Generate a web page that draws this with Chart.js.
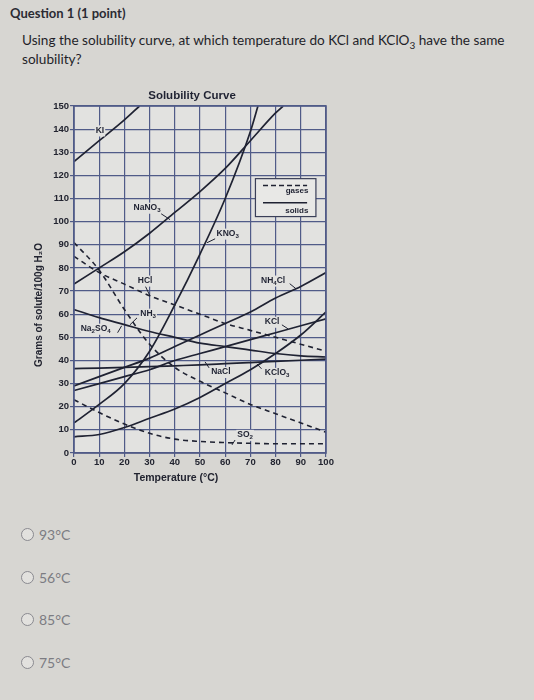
<!DOCTYPE html>
<html>
<head>
<meta charset="utf-8">
<script src="https://cdn.jsdelivr.net/npm/chart.js@4.4.1/dist/chart.umd.min.js"></script>
<style>
  html, body { margin:0; padding:0; }
  body { width:534px; height:700px; background:#d7d6d2; position:relative; overflow:hidden; font-family: Lato, "Open Sans", sans-serif; }
  .q { position:absolute; left:10px; top:5px; font-size:13px; font-weight:bold; color:#2b2b33; }
  .stem { position:absolute; left:22px; top:31px; width:505px; font-size:13.6px; line-height:19px; color:#1f1f29; }
  .stem sub { font-size:10px; line-height:0; }
  #wrap { position:absolute; left:0; top:80px; width:360px; height:420px; }
  .opt { position:absolute; left:21px; font-size:14px; color:#7c7c82; display:flex; align-items:center; }
  .opt span.r { display:inline-block; width:11px; height:11px; border:1px solid #8a8a90; border-radius:50%; margin-right:5px; background:#e2e1de; }
</style>
</head>
<body>
<div class="q">Question 1 (1 point)</div>
<div class="stem">Using the solubility curve, at which temperature do KCl and KClO<sub>3</sub> have the same solubility?</div>
<div id="wrap"><canvas id="c" width="360" height="420"></canvas></div>
<div class="opt" style="top:526px"><span class="r"></span>93°C</div>
<div class="opt" style="top:569px"><span class="r"></span>56°C</div>
<div class="opt" style="top:611px"><span class="r"></span>85°C</div>
<div class="opt" style="top:654px"><span class="r"></span>75°C</div>
<script>
// ---- data ----
const temps = [0,10,20,30,40,50,60,70,80,90,100];
const xTicks = [0,10,20,30,40,50,60,70,80,90,100];
const yTicks = [0,10,20,30,40,50,60,70,80,90,100,110,120,130,140,150];

const KI_T    = [0,10,20,26];
const KI      = [126,135,144,150];
const NaNO3_T = [0,10,20,30,40,50,60,70,80,83];
const NaNO3   = [73,80,87,95,104,113,123,135,147,150];
const KNO3_T  = [0,10,20,30,40,50,60,70,73];
const KNO3    = [13,21,30,44,64,86,110,139,150];
const NH4Cl   = [29,33,37,41,46,51,56,61,67,72,78];
const KCl     = [27,30,33,36,40,43,46,49,52,55,58];
const NaCl    = [36.5,36.7,37,37.3,37.7,38.1,38.6,39.1,39.6,40.1,40.6];
const KClO3   = [7,8,11,15,19,24,30,36,43,51,61];
const Na2SO4  = [62,58.5,55.5,52.5,50,47.5,46,44.5,43,42,41.5];
const HCl     = [85,78,73,68,64,60,56,53,50,47,44];
const NH3     = [91,79,62,47,37,31,26,21,17,13,9];
const SO2     = [23,17.5,12.5,8.5,6,5,4.5,4.2,4,4,4];

const seriesNames = ['KI','NaNO3','KNO3','NH4Cl','KCl','NaCl','KClO3','Na2SO4','HCl','NH3','SO2'];

// curve labels: [text, T, V, leader [T1,V1,T2,V2] or null]  (digits drawn as subscripts)
const curveLabels = [
  ['KI', 10.3, 139.4, null],
  ['NaNO3', 29, 106, [34.6,103.4,38.1,100.9]],
  ['KNO3', 61, 94.8, [56,92.6,52.8,90.9]],
  ['HCl', 28.2, 74.5, [28.4,71.9,30.2,67.8]],
  ['NH3', 29.4, 60.2, [25,58.4,22.2,55.4]],
  ['Na2SO4', 8.6, 53.7, [17.3,52,18.9,55]],
  ['NH4Cl', 79, 74.5, [85.6,73.2,88.1,71]],
  ['KCl', 78.6, 56.7, [82.5,55.4,84.9,53.7]],
  ['NaCl', 58.3, 35, [53.6,36.8,52,39.4]],
  ['KClO3', 80.6, 34.6, [74.4,36.4,72.6,38.5]],
  ['SO2', 67.9, 7.8, [63.9,5.6,62.7,3.5]]
];

const INK = '#1f2232';
const GRID = '#505b88';
const FONT = '"Liberation Sans", Arial, sans-serif';

function pts(xs, ys){ return xs.map((x,i)=>({x:x, y:ys[i]})); }
function solid(label, data){ return {label, data, borderColor:INK, borderWidth:1.7, pointRadius:0, cubicInterpolationMode:'monotone', fill:false}; }
function dashed(label, data){ return {label, data, borderColor:INK, borderWidth:1.6, borderDash:[5,4], pointRadius:0, cubicInterpolationMode:'monotone', fill:false}; }

const datasets = [
  solid(seriesNames[0], pts(KI_T, KI)),
  solid(seriesNames[1], pts(NaNO3_T, NaNO3)),
  solid(seriesNames[2], pts(KNO3_T, KNO3)),
  solid(seriesNames[3], pts(temps, NH4Cl)),
  solid(seriesNames[4], pts(temps, KCl)),
  solid(seriesNames[5], pts(temps, NaCl)),
  solid(seriesNames[6], pts(temps, KClO3)),
  solid(seriesNames[7], pts(temps, Na2SO4)),
  dashed(seriesNames[8], pts(temps, HCl)),
  dashed(seriesNames[9], pts(temps, NH3)),
  dashed(seriesNames[10], pts(temps, SO2))
];

// draw a formula with digits as subscripts, centred at (cx, cy)
function formula(ctx, text, cx, cy, size){
  const big = 'bold ' + size + 'px ' + FONT, small = 'bold ' + (size*0.72) + 'px ' + FONT;
  const parts = text.split(/(\d+)/).filter(s => s.length);
  let total = 0;
  const widths = parts.map(p => { ctx.font = /^\d+$/.test(p) ? small : big; const w = ctx.measureText(p).width; total += w; return w; });
  let x = cx - total/2;
  ctx.fillStyle = '#e2e2e0';
  ctx.fillRect(x-1, cy-size*0.6, total+2, size*1.3);
  ctx.fillStyle = INK;
  ctx.textAlign = 'left'; ctx.textBaseline = 'middle';
  parts.forEach((p,i) => {
    const sub = /^\d+$/.test(p);
    ctx.font = sub ? small : big;
    ctx.fillText(p, x, sub ? cy + size*0.3 : cy);
    x += widths[i];
  });
}

const deco = {
  id:'deco',
  beforeDraw(chart){
    const {ctx, chartArea:a} = chart;
    ctx.save();
    ctx.fillStyle = '#e2e2e0';
    ctx.fillRect(a.left, a.top, a.right-a.left, a.bottom-a.top);
    ctx.restore();
  },
  afterDraw(chart){
    const {ctx, chartArea:a} = chart;
    const xs = chart.scales.x, ys = chart.scales.y;
    const X = v => xs.getPixelForValue(v), Y = v => ys.getPixelForValue(v);
    ctx.save();
    // plot border
    ctx.strokeStyle = GRID; ctx.lineWidth = 1.6;
    ctx.strokeRect(a.left, a.top, a.right-a.left, a.bottom-a.top);
    // curve labels
    curveLabels.forEach(([t, tx, ty, ld]) => {
      formula(ctx, t, X(tx), Y(ty), 8.5);
      if (ld){
        ctx.strokeStyle = INK; ctx.lineWidth = 1;
        ctx.beginPath(); ctx.moveTo(X(ld[0]),Y(ld[1])); ctx.lineTo(X(ld[2]),Y(ld[3])); ctx.stroke();
      }
    });
    // key box
    const bx0 = X(72), bx1 = X(96), by0 = Y(118.6), by1 = Y(102.2);
    ctx.fillStyle = '#e8e8e6';
    ctx.fillRect(bx0, by0, bx1-bx0, by1-by0);
    ctx.strokeStyle = '#3a3f58'; ctx.lineWidth = 1.2;
    ctx.strokeRect(bx0, by0, bx1-bx0, by1-by0);
    ctx.strokeStyle = INK; ctx.lineWidth = 1.5;
    ctx.setLineDash([5,3]);
    ctx.beginPath(); ctx.moveTo(X(75), Y(115.6)); ctx.lineTo(X(92.5), Y(115.6)); ctx.stroke();
    ctx.setLineDash([]);
    ctx.beginPath(); ctx.moveTo(X(75), Y(108.2)); ctx.lineTo(X(92.5), Y(108.2)); ctx.stroke();
    ctx.fillStyle = INK; ctx.textAlign = 'right'; ctx.textBaseline = 'middle';
    ctx.font = 'bold 8px ' + FONT;
    ctx.fillText('gases', X(93), Y(113.2));
    ctx.fillText('solids', X(93), Y(104.8));
    // chart title
    ctx.font = 'bold 11.5px ' + FONT;
    ctx.textAlign = 'center';
    ctx.fillStyle = INK;
    ctx.fillText('Solubility Curve', 192, 16);
    // axis titles
    ctx.font = 'bold 10.5px ' + FONT;
    ctx.fillStyle = '#222430';
    ctx.fillText('Temperature (°C)', 176, 398);
    ctx.font = 'bold 10px ' + FONT;
    ctx.translate(39, 225);
    ctx.rotate(-Math.PI/2);
    ctx.fillText('Grams of solute/100g H₂O', 0, 0);
    ctx.restore();
  }
};

new Chart(document.getElementById('c'), {
  type:'line',
  data:{ datasets },
  plugins:[deco],
  options:{
    responsive:false, animation:false, devicePixelRatio:1,
    layout:{ padding:{left:0, right:34, top:26, bottom:15} },
    plugins:{
      legend:{display:false}, tooltip:{enabled:false}, title:{display:false}
    },
    scales:{
      x:{ type:'linear', min:0, max:100,
        afterFit(s){ s.height = 32; },
        afterBuildTicks(s){ s.ticks = xTicks.map(v=>({value:v})); },
        grid:{ color:GRID, lineWidth:1.2, tickLength:4, drawTicks:true },
        border:{ display:false },
        ticks:{ padding:0, color:'#222430', font:{family:FONT, size:9.5, weight:'bold'}, maxRotation:0 }
      },
      y:{ type:'linear', min:0, max:150,
        afterFit(s){ s.width = 74; },
        afterBuildTicks(s){ s.ticks = yTicks.map(v=>({value:v})); },
        grid:{ color:GRID, lineWidth:1.2, tickLength:4, drawTicks:true },
        border:{ display:false },
        ticks:{ padding:1, color:'#222430', font:{family:FONT, size:9.5, weight:'bold'} }
      }
    }
  }
});
</script>
</body>
</html>
